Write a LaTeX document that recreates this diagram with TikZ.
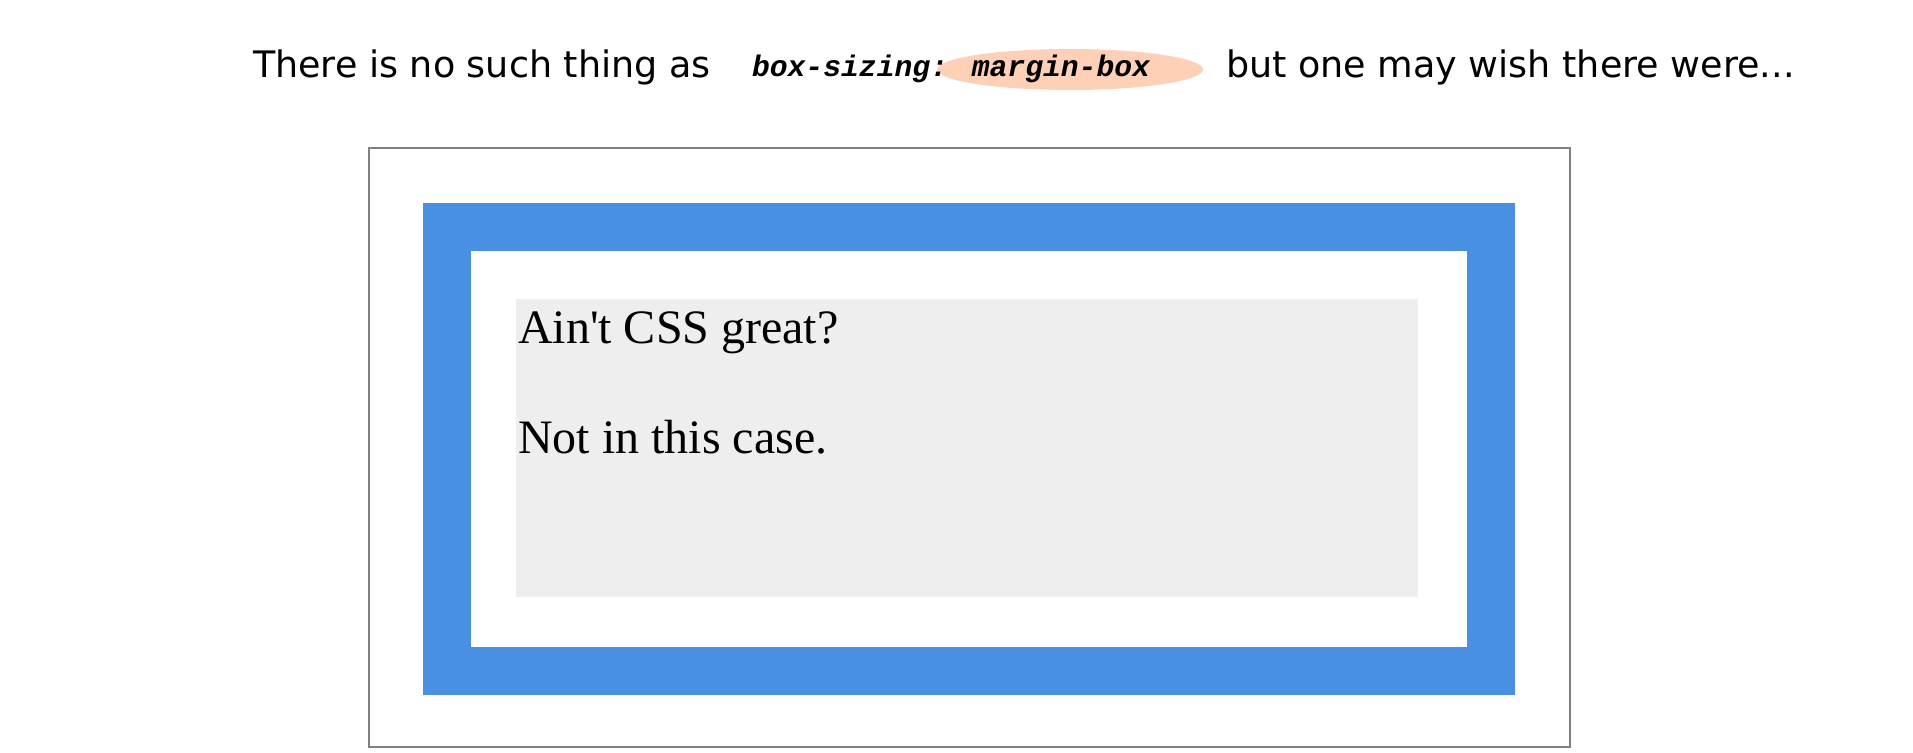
\documentclass[tikz,border=0pt]{standalone}
\usepackage{fontspec}
\setmainfont{Liberation Serif}[Ligatures=TeXOff]
\newfontfamily\titlefont{DejaVu Sans}
\newfontfamily\codefont{Liberation Mono}
\usetikzlibrary{shapes.geometric}
\definecolor{cssblue}{HTML}{4A90E2}
\definecolor{padgray}{HTML}{EEEEEE}
\definecolor{framegray}{HTML}{808080}
\definecolor{peach}{HTML}{FFD0B8}
\tikzset{
  txt/.style={inner sep=0pt, outer sep=0pt, anchor=base west},
  titletxt/.style={txt, font=\titlefont\fontsize{36.5}{43}\selectfont},
  codetxt/.style={txt, font=\codefont\bfseries\itshape\fontsize{29.7}{36}\selectfont},
  bodytxt/.style={txt, font=\fontsize{48}{56}\selectfont},
}
\begin{document}
\begin{tikzpicture}[x=1pt,y=-1pt]
\useasboundingbox (0,0) rectangle (1913,752);
% outer margin frame
\draw[framegray, line width=2pt] (369,148) rectangle (1570.3,746.7);
% border (blue)
\fill[cssblue] (423,203) rectangle (1515,694.7);
\fill[white] (470.7,250.7) rectangle (1467,647);
% content box
\fill[padgray] (516,299) rectangle (1418,597);
% texts
\node[bodytxt] (l1) at (518,343.3) {Ain't CSS great?};
\node[bodytxt] (l2) at (518,453.3) {Not in this case.};
% title
\node[fill=peach, draw=none, ellipse, minimum width=266pt, minimum height=41pt, inner sep=0pt] (ell) at (1070,69.5) {};
\node[titletxt] (t1) at (253,77.3) {There is no such thing as};
\node[codetxt] (code) at (752,77) {box-sizing: margin-box};
\node[titletxt] (t2) at (1226,77.3) {but one may wish there were...};
\end{tikzpicture}
\end{document}
